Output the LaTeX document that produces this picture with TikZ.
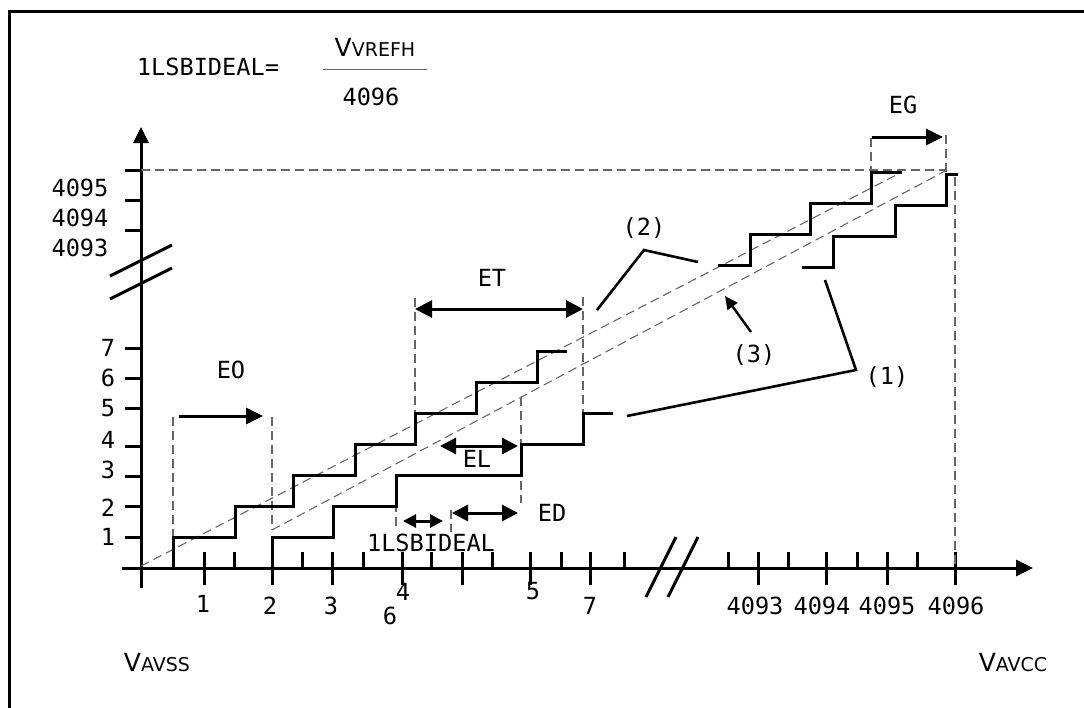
\documentclass[tikz,border=0pt]{standalone}
\usepackage{fontspec}
\setmainfont{DejaVu Sans}
\setmonofont{DejaVu Sans Mono}
\usepackage{tikz}
\usetikzlibrary{arrows.meta}
\def\guideColor{black!60}
\newcommand{\voltlabel}[2]{{\fontsize{12.5}{14}\selectfont #1}{\fontsize{9.5}{11}\selectfont #2}}

\tikzset{
	stair/.style={line width=1.5pt},
	guide/.style={\guideColor, line width=0.55pt, dash pattern=on 4.5pt off 2.5pt},
	onearrow/.style={line width=1.5pt, -{Triangle[length=8.5pt,width=8pt]}},
	twoarrow/.style={line width=1.5pt, {Triangle[length=#1,width=#1]}-{Triangle[length=#1,width=#1]}},
	leader/.style={line width=1.3pt},
	lbl/.style={font=\ttfamily\fontsize{11.8}{13}\selectfont, inner sep=0pt},
	volt/.style={inner sep=0pt}
}

\begin{document}
\begin{tikzpicture}[x=0.5pt, y=-0.5pt, line cap=butt, line join=miter]
	\useasboundingbox (0,0) rectangle (1084,708);
	\draw[line width=1.5pt] (9,720) -- (9,11) -- (1100,11);

	% formula
	\node[lbl] (lsbeq) at (208,67) {1LSBIDEAL=};
	\node[volt] (vref) at (375,47) {\voltlabel{V}{VREFH}};
	\draw[\guideColor, line width=0.5pt] (323,69) -- (427,69);
	\node[lbl] (den) at (371,97) {4096};

	% axes
	\draw[line width=1.5pt, -{Triangle[length=8pt,width=7.5pt]}] (141,588) -- (141,127);
	\draw[line width=1.5pt, -{Triangle[length=8.5pt,width=8pt]}] (122,568) -- (1033,568);
	\draw[line width=1.5pt] (110,276) -- (172,245) (110,299) -- (172,268);
	\draw[line width=1.5pt] (646,597) -- (676,537) (668,597) -- (698,537);
	\foreach \y in {170,200,230,348,378,408,446,476,506,537}
		\draw[line width=1.5pt] (125,\y) -- (141,\y);
	\foreach \x in {234,302,363,431,492,561,624,728,788,857,917}
		\draw[line width=1.5pt] (\x,552) -- (\x,568);
	\foreach \x in {204,272,332,402,462,530,590,758,826,887,955}
		\draw[line width=1.5pt] (\x,552) -- (\x,585);

	% axis labels
	\foreach \t/\y in {4095/188,4094/218,4093/248}
		\node[lbl] (y\t) at (80,\y) {\t};
	\foreach \t/\y in {7/348,6/378,5/408,4/440,3/470,2/508,1/537}
		\node[lbl] (ylow\t) at (108,\y) {\t};
	\foreach \t/\x/\y in {1/203/604,2/270/606,3/331/606,4/403/592,6/390/616,5/533/591,7/590/606}
		\node[lbl] (xlow\t) at (\x,\y) {\t};
	\foreach \t/\x in {4093/755,4094/822,4095/887,4096/956}
		\node[lbl] (x\t) at (\x,606) {\t};
	\node[volt] (vss) at (157,663) {\voltlabel{V}{AVSS}};
	\node[volt] (vcc) at (1013,663) {\voltlabel{V}{AVCC}};

	% guides
	\draw[guide] (141,170) -- (946,170);
	\draw[guide] (141,566) -- (902,172);
	\draw[guide] (272,530) -- (947,170);
	\foreach \x/\a/\b in {173/417/537,272/417/530,415/298/413,583/297/413,521/397/503,396/475/528,451/510/532,871/138/172,946/135/172,955/177/568}
		\draw[guide] (\x,\a) -- (\x,\b);

	% transfer steps
	\draw[stair] (173,568) |- (235,537) |- (293,506) |- (355,475) |- (415,444) |- (476,413) |- (537,382) |- (567,351);
	\draw[stair] (272,568) |- (333,537) |- (396,506) |- (521,475) |- (583,444) |- (613,413);
	\draw[stair] (718,265) -- (750,265) |- (810,234) |- (871,203) |- (902,172);
	\draw[stair] (802,267) -- (833,267) |- (895,236) |- (946,205) |- (958,174);

	% error arrows
	\draw[onearrow] (179,416) -- (263,416);
	\node[lbl] (eo) at (231,370) {EO};
	\draw[twoarrow=8.5pt] (415,309) -- (583,309);
	\node[lbl] (et) at (492,278) {ET};
	\draw[twoarrow=8pt] (440,446) -- (518,446);
	\node[lbl] (el) at (477,459) {EL};
	\draw[twoarrow=8pt] (452,513) -- (518,513);
	\node[lbl] (ed) at (552,513) {ED};
	\draw[twoarrow=6.5pt] (403,521) -- (443,521);
	\node[lbl] (lsb) at (431,543) {1LSBIDEAL};
	\draw[onearrow] (872,137) -- (943,137);
	\node[lbl] (eg) at (903,105) {EG};

	% callouts
	\node[lbl] (c2) at (644,228) {(2)};
	\node[lbl] (c3) at (754,355) {(3)};
	\node[lbl] (c1) at (887,377) {(1)};
	\coordinate (c2knee) at (644,250);
	\coordinate (c1knee) at (856,370);
	\draw[leader] (597,310) -- (c2knee) -- (698,262);
	\draw[leader] (825,280) -- (c1knee) -- (627,416);
	\draw[line width=1.2pt, -{Triangle[length=6.5pt,width=6pt]}] (751,332) -- (725,296);
\end{tikzpicture}
\end{document}
